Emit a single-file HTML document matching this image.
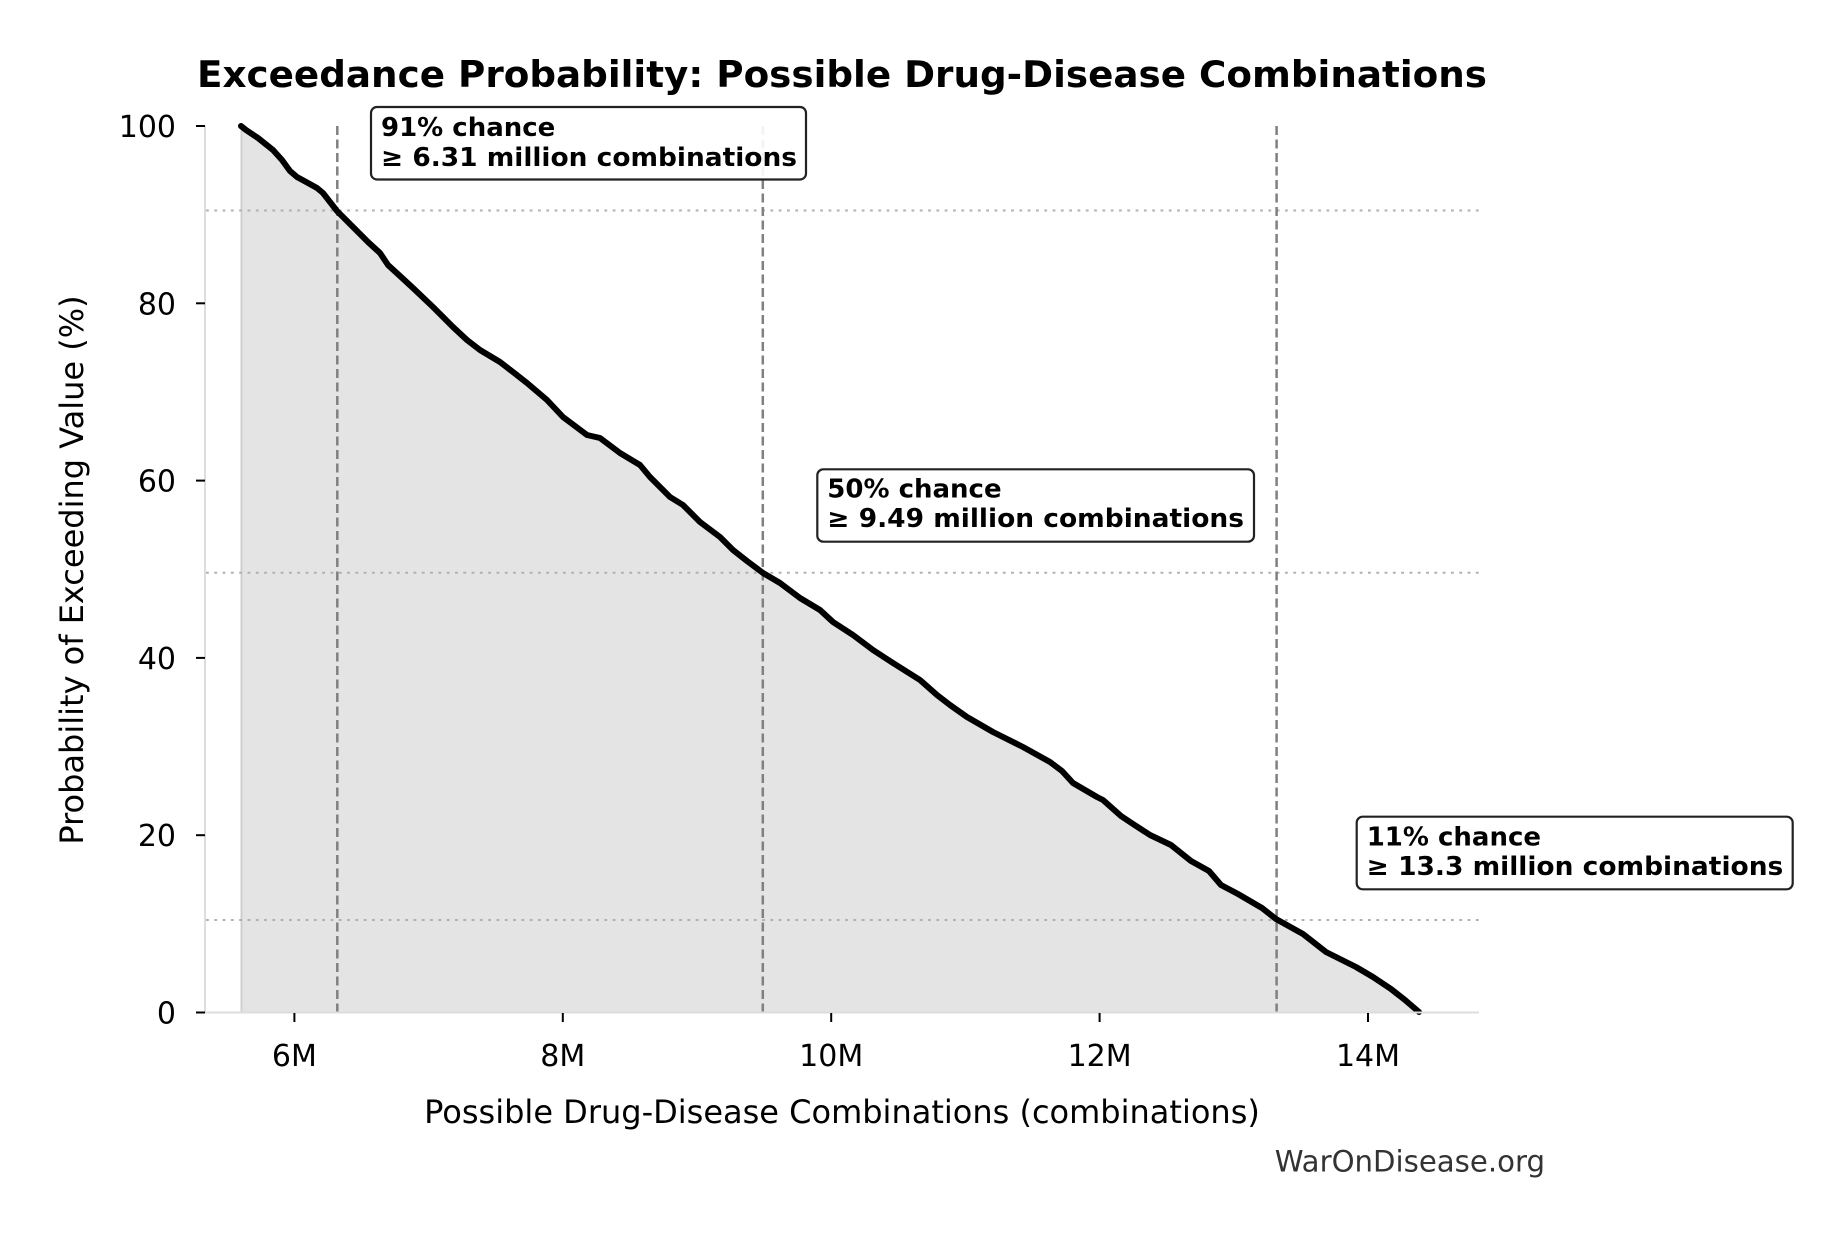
<!DOCTYPE html>
<html>
<head>
<meta charset="utf-8">
<style>
  html, body { margin: 0; padding: 0; background: #ffffff; }
  svg { display: block; }
  text { font-family: "DejaVu Sans", "Liberation Sans", sans-serif; }
</style>
</head>
<body>
<svg width="1842" height="1234" viewBox="0 0 1842 1234" xmlns="http://www.w3.org/2000/svg">
  <rect x="0" y="0" width="1842" height="1234" fill="#ffffff"/>

  <!-- Title -->
  <text x="197" y="87" font-size="36.5" font-weight="bold" fill="#000" textLength="1290" lengthAdjust="spacingAndGlyphs">Exceedance Probability: Possible Drug-Disease Combinations</text>

  <!-- Fill under curve -->
  <polygon fill="#e4e4e4" points="241,126 246,130 258,138 273,150 282,160 290,171 297,177 308,183 317,188 323,193 330,202 337,211 353,227 368,242 380,253 388,265 400,276 413,288 433,307 453,327 467,340 480,350 500,362 513,372 527,383 547,400 563,417 575,426 587,435 600,438 620,453 640,465 650,477 670,497 683,505 700,522 720,537 733,550 747,561 763,573 780,583 800,598 820,610 833,622 853,635 873,650 893,663 920,680 937,695 950,705 967,717 993,732 1023,747 1050,762 1062,771 1073,783 1097,797 1103,800 1121,816 1133,824 1150,835 1171,845 1191,861 1209,871 1221,885 1238,894 1262,908 1276,919 1303,934 1326,952 1356,967 1373,977 1391,989 1405,1000 1419,1012 241,1012"/>
  <line x1="241.5" y1="126" x2="241.5" y2="1012" stroke="#cfcfcf" stroke-width="2"/>

  <!-- Dotted horizontal reference lines -->
  <g stroke="#b0b0b0" stroke-width="2" stroke-dasharray="2.8 5.5">
    <line x1="206" y1="210.5" x2="1479" y2="210.5"/>
    <line x1="206" y1="572.7" x2="1479" y2="572.7"/>
    <line x1="206" y1="920" x2="1479" y2="920"/>
  </g>

  <!-- Dashed vertical reference lines -->
  <g stroke="#808080" stroke-width="2.5" stroke-dasharray="9 4.5">
    <line x1="337.3" y1="126" x2="337.3" y2="1012"/>
    <line x1="762.8" y1="126" x2="762.8" y2="1012"/>
    <line x1="1276.6" y1="126" x2="1276.6" y2="1012"/>
  </g>

  <!-- Curve -->
  <polyline fill="none" stroke="#000" stroke-width="6" stroke-linejoin="round" stroke-linecap="round" points="241,126 246,130 258,138 273,150 282,160 290,171 297,177 308,183 317,188 323,193 330,202 337,211 353,227 368,242 380,253 388,265 400,276 413,288 433,307 453,327 467,340 480,350 500,362 513,372 527,383 547,400 563,417 575,426 587,435 600,438 620,453 640,465 650,477 670,497 683,505 700,522 720,537 733,550 747,561 763,573 780,583 800,598 820,610 833,622 853,635 873,650 893,663 920,680 937,695 950,705 967,717 993,732 1023,747 1050,762 1062,771 1073,783 1097,797 1103,800 1121,816 1133,824 1150,835 1171,845 1191,861 1209,871 1221,885 1238,894 1262,908 1276,919 1303,934 1326,952 1356,967 1373,977 1391,989 1405,1000 1419,1012"/>

  <!-- Spines -->
  <line x1="205" y1="126" x2="205" y2="1013" stroke="#dddddd" stroke-width="2"/>
  <line x1="204" y1="1012.5" x2="1479" y2="1012.5" stroke="#dddddd" stroke-width="2"/>

  <!-- Y ticks -->
  <g stroke="#000" stroke-width="2">
    <line x1="196" y1="126" x2="205" y2="126"/>
    <line x1="196" y1="303.3" x2="205" y2="303.3"/>
    <line x1="196" y1="480.6" x2="205" y2="480.6"/>
    <line x1="196" y1="657.9" x2="205" y2="657.9"/>
    <line x1="196" y1="835.2" x2="205" y2="835.2"/>
    <line x1="196" y1="1012.5" x2="205" y2="1012.5"/>
  </g>
  <g font-size="30" fill="#000" text-anchor="end">
    <text x="176" y="137">100</text>
    <text x="176" y="314.3">80</text>
    <text x="176" y="491.6">60</text>
    <text x="176" y="668.9">40</text>
    <text x="176" y="846.2">20</text>
    <text x="176" y="1023.5">0</text>
  </g>

  <!-- X ticks -->
  <g stroke="#000" stroke-width="2">
    <line x1="294.4" y1="1013" x2="294.4" y2="1022"/>
    <line x1="562.8" y1="1013" x2="562.8" y2="1022"/>
    <line x1="831.2" y1="1013" x2="831.2" y2="1022"/>
    <line x1="1099.6" y1="1013" x2="1099.6" y2="1022"/>
    <line x1="1368" y1="1013" x2="1368" y2="1022"/>
  </g>
  <g font-size="30" fill="#000" text-anchor="middle">
    <text x="294.4" y="1066">6M</text>
    <text x="562.8" y="1066">8M</text>
    <text x="831.2" y="1066">10M</text>
    <text x="1099.6" y="1066">12M</text>
    <text x="1368" y="1066">14M</text>
  </g>

  <!-- Axis labels -->
  <text x="842" y="1123" font-size="32" fill="#000" text-anchor="middle">Possible Drug-Disease Combinations (combinations)</text>
  <text transform="translate(83,570) rotate(-90)" font-size="32" fill="#000" text-anchor="middle">Probability of Exceeding Value (%)</text>

  <!-- Annotation boxes -->
  <g font-size="26" font-weight="bold" fill="#000">
    <rect x="371" y="107" width="435" height="72.5" rx="6" ry="6" fill="#fff" fill-opacity="0.9" stroke="#222" stroke-width="2.2"/>
    <text x="381" y="136">91% chance</text>
    <text x="381" y="166" textLength="416" lengthAdjust="spacingAndGlyphs">≥ 6.31 million combinations</text>

    <rect x="817.3" y="469.3" width="436.7" height="72.4" rx="6" ry="6" fill="#fff" fill-opacity="0.9" stroke="#222" stroke-width="2.2"/>
    <text x="827.3" y="497.5">50% chance</text>
    <text x="827.3" y="527" textLength="416.7" lengthAdjust="spacingAndGlyphs">≥ 9.49 million combinations</text>

    <rect x="1356.7" y="816.7" width="436" height="72.6" rx="6" ry="6" fill="#fff" fill-opacity="0.9" stroke="#222" stroke-width="2.2"/>
    <text x="1366.7" y="845.7">11% chance</text>
    <text x="1366.7" y="875" textLength="416.6" lengthAdjust="spacingAndGlyphs">≥ 13.3 million combinations</text>
  </g>

  <!-- Watermark -->
  <text x="1545" y="1171.7" font-size="29.2" fill="#333333" text-anchor="end">WarOnDisease.org</text>
</svg>
</body>
</html>
